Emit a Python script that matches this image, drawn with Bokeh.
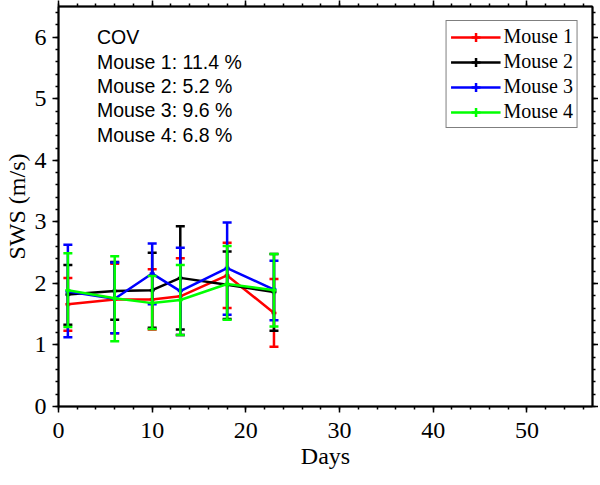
import math
from bokeh.plotting import figure
from bokeh.models import Range1d, LinearAxis, Label, Legend, LegendItem, ColumnDataSource, FixedTicker
from bokeh.embed import file_html
from bokeh.resources import INLINE

days = [1, 6, 10, 13, 18, 23]
series_names = ["Mouse 1", "Mouse 2", "Mouse 3", "Mouse 4"]
m1_mean = [1.66, 1.74, 1.74, 1.79, 2.13, 1.52]
m1_upper = [2.09, 2.32, 2.23, 2.41, 2.66, 2.07]
m1_lower = [1.23, 1.19, 1.25, 1.16, 1.60, 0.97]
m2_mean = [1.82, 1.875, 1.89, 2.09, 1.98, 1.86]
m2_upper = [2.30, 2.35, 2.50, 2.93, 2.52, 2.48]
m2_lower = [1.33, 1.41, 1.28, 1.25, 1.42, 1.23]
m3_mean = [1.87, 1.75, 2.16, 1.875, 2.25, 1.90]
m3_upper = [2.63, 2.34, 2.65, 2.58, 2.99, 2.37]
m3_lower = [1.125, 1.19, 1.66, 1.16, 1.49, 1.40]
m4_mean = [1.89, 1.76, 1.68, 1.73, 1.99, 1.89]
m4_upper = [2.49, 2.44, 2.12, 2.30, 2.61, 2.48]
m4_lower = [1.29, 1.06, 1.26, 1.16, 1.41, 1.30]
cov_values = [11.4, 5.2, 9.6, 6.8]
colors = ["#ff0000", "#000000", "#0000ff", "#00ff00"]

x_ticks = [0, 10, 20, 30, 40, 50]
y_ticks = [0, 1, 2, 3, 4, 5, 6]

SERIF = "Liberation Serif"
SANS = "Liberation Sans"

p = figure(frame_width=534, frame_height=400, output_backend="svg", toolbar_location=None,
           x_range=Range1d(0, 57), y_range=Range1d(0, 6.5),
           min_border_left=50, min_border_right=0, min_border_top=0, min_border_bottom=0)
p.xgrid.visible = False
p.ygrid.visible = False
p.outline_line_color = "black"
p.outline_line_width = 1.5
p.background_fill_color = "white"
p.border_fill_color = "white"

def style_axis(ax, ticks, minor, show_labels):
    ax.ticker = FixedTicker(ticks=ticks, minor_ticks=minor)
    ax.axis_line_width = 2
    ax.axis_line_color = "black"
    ax.major_tick_line_width = 1.5
    ax.minor_tick_line_width = 1.5
    ax.major_tick_out = 6
    ax.major_tick_in = 0
    ax.minor_tick_out = 3
    ax.minor_tick_in = 0
    ax.major_label_text_font = SERIF
    ax.axis_label_text_font = SERIF
    ax.axis_label_text_font_style = "normal"
    ax.axis_label_text_font_size = "24px"
    ax.axis_label_text_color = "black"
    if show_labels:
        ax.major_label_text_font_size = "24px"
        ax.major_label_text_color = "black"
    else:
        ax.major_label_text_font_size = "1px"
        ax.major_label_text_color = None
        ax.major_label_standoff = 0

x_minor = [v * 2 for v in range(0, 29)]
y_minor = [round(v * 0.2, 2) for v in range(0, 33)]

style_axis(p.xaxis[0], x_ticks, x_minor, True)
style_axis(p.yaxis[0], y_ticks, y_minor, True)
p.xaxis[0].axis_label = "Days"
p.yaxis[0].axis_label = "SWS (m/s)"
p.xaxis[0].major_label_standoff = 10
p.yaxis[0].major_label_standoff = 6
p.yaxis[0].axis_label_standoff = 2
p.xaxis[0].axis_label_standoff = 2

top_ax = LinearAxis()
right_ax = LinearAxis()
style_axis(top_ax, x_ticks, x_minor, False)
style_axis(right_ax, y_ticks, y_minor, False)
p.add_layout(top_ax, "above")
p.add_layout(right_ax, "right")

all_means = [m1_mean, m2_mean, m3_mean, m4_mean]
all_upper = [m1_upper, m2_upper, m3_upper, m4_upper]
all_lower = [m1_lower, m2_lower, m3_lower, m4_lower]

items = []
for name, col, mean, up, lo in zip(series_names, colors, all_means, all_upper, all_lower):
    src = ColumnDataSource(dict(x=days, y=mean, up=up, lo=lo))
    lr = p.line("x", "y", source=src, line_color=col, line_width=2.5)
    p.segment(x0="x", y0="lo", x1="x", y1="up", source=src, line_color=col, line_width=2.5)
    p.scatter("x", "up", source=src, marker="dash", size=9, line_color=col, line_width=2.5)
    p.scatter("x", "lo", source=src, marker="dash", size=9, line_color=col, line_width=2.5)
    # small cross at each mean: hidden under line + error bar, gives the legend its error-bar swatch
    cr = p.scatter("x", "y", source=src, marker="cross", size=5, line_color=col, line_width=2.5)
    items.append(LegendItem(label=name, renderers=[lr, cr]))

legend = Legend(items=items, location="top_right", margin=14,
                label_text_font=SERIF, label_text_font_size="20px", label_text_color="black",
                glyph_width=50, glyph_height=22, label_height=22,
                spacing=2, padding=4, label_standoff=3,
                border_line_color="black", border_line_width=1.5,
                background_fill_alpha=1.0)
p.add_layout(legend)

cov_lines = ["COV"] + [f"{n}: {v} %" for n, v in zip(series_names, cov_values)]
for i, t in enumerate(cov_lines):
    p.add_layout(Label(x=4.1, y=6.0 - i * 0.396, text=t, text_font=SANS,
                       text_font_size="19.5px", text_baseline="middle", text_color="black"))

open("out.html", "w").write(file_html(p, INLINE))
